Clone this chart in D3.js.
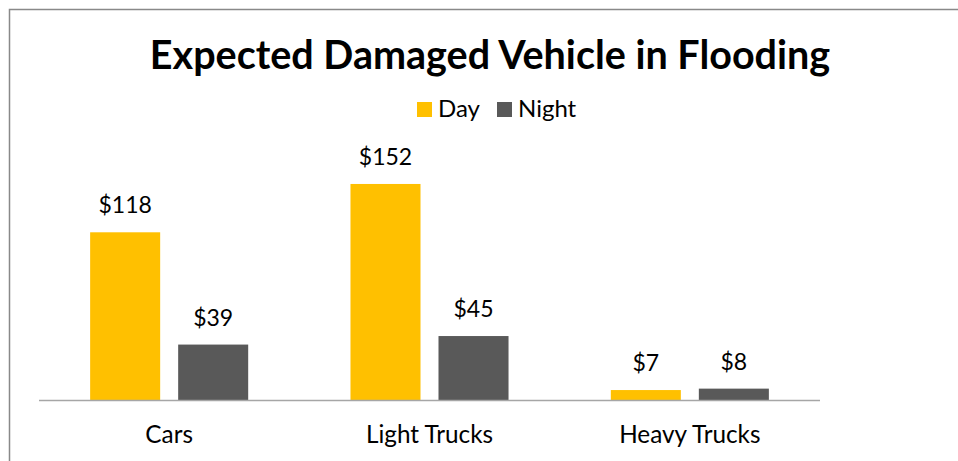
<!DOCTYPE html>
<html><head><meta charset="utf-8">
<script src="https://cdn.jsdelivr.net/npm/d3@7"></script>
<style>html,body{margin:0;padding:0;background:#fff;overflow:hidden}</style>
</head><body>
<script>
const categories = ["Cars", "Light Trucks", "Heavy Trucks"];
const seriesNames = ["Day", "Night"];
const dayValues = [118, 152, 7];
const nightValues = [39, 45, 8];
const colors = ["#FFC000", "#595959"];
const title = "Expected Damaged Vehicle in Flooding";

const W = 958, H = 461;
const svg = d3.select("body").append("svg").attr("width", W).attr("height", H);
const font = "Lato, 'DejaVu Sans', sans-serif";

svg.append("rect").attr("x", 9.5).attr("y", 9.5).attr("width", 1200).attr("height", 1200)
  .attr("fill", "#fff").attr("stroke", "#898989").attr("stroke-width", 1.5);

const x0 = d3.scaleBand().domain(categories).range([39, 820]).paddingInner(0).paddingOuter(0);
const x1 = d3.scaleBand().domain(seriesNames).range([0, x0.bandwidth()]).paddingInner(0.2045).paddingOuter(0.581);
const y = d3.scaleLinear().domain([0, 160]).range([400, 172.6]);

const data = categories.map((c, i) => ({cat: c, vals: [
  {s: "Day", v: dayValues[i], col: colors[0]},
  {s: "Night", v: nightValues[i], col: colors[1]}]}));

const g = svg.selectAll("g.cat").data(data).join("g").attr("class", "cat")
  .attr("transform", d => `translate(${x0(d.cat)},0)`);
g.selectAll("rect").data(d => d.vals).join("rect")
  .attr("x", d => x1(d.s)).attr("width", x1.bandwidth())
  .attr("y", d => y(d.v)).attr("height", d => y(0) - y(d.v))
  .attr("fill", d => d.col);
g.selectAll("text.lbl").data(d => d.vals).join("text").attr("class", "lbl")
  .attr("x", d => x1(d.s) + x1.bandwidth() / 2).attr("y", d => y(d.v) - 19)
  .attr("text-anchor", "middle").attr("font-family", font).attr("font-size", 23)
  .attr("fill", "#000").text(d => "$" + d.v);

const axis = svg.append("g").attr("transform", "translate(0,400)")
  .call(d3.axisBottom(x0).tickSize(0).tickPadding(0));
axis.select(".domain").attr("stroke", "#a6a6a6").attr("stroke-width", 1.5).attr("d", "M39,0.5H820");
axis.selectAll(".tick text").attr("font-family", font).attr("font-size", 24.3).attr("fill", "#000")
  .attr("dy", null).attr("y", 43);

svg.append("text").attr("x", 490).attr("y", 68.5).attr("text-anchor", "middle")
  .attr("font-family", font).attr("font-weight", "bold").attr("font-size", 39.5)
  .attr("fill", "#000").text(title);

const leg = svg.append("g");
const legX = [417, 497];
seriesNames.forEach((s, i) => {
  leg.append("rect").attr("x", legX[i]).attr("y", 102).attr("width", 15).attr("height", 15).attr("fill", colors[i]);
  leg.append("text").attr("x", legX[i] + 21).attr("y", 117).attr("font-family", font)
    .attr("font-size", 24).attr("fill", "#000").text(s);
});
</script>
</body></html>
